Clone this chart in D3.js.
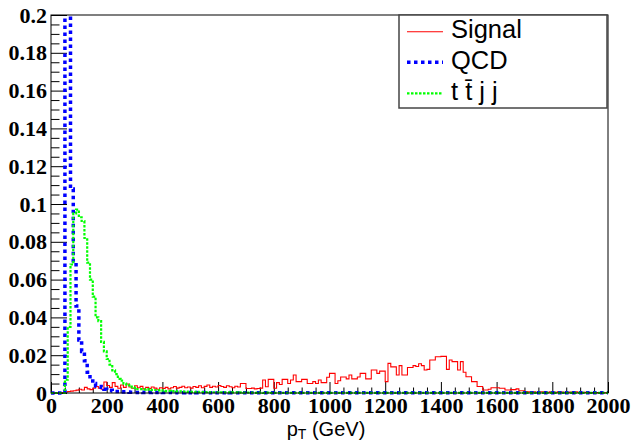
<!DOCTYPE html>
<html>
<head>
<meta charset="utf-8">
<script src="https://cdn.jsdelivr.net/npm/d3@7"></script>
<style>
  html, body { margin: 0; padding: 0; background: #fff; }
  svg { display: block; }
  .num text { font-family: "Liberation Serif", "Times New Roman", serif !important; font-weight: bold; }
</style>
</head>
<body>
<svg id="chart" width="631" height="441"></svg>
<script>
// ---------------- data (10 GeV bins, 0..2000 GeV) ----------------
const binWidth = 10;
const xDomain = [0, 2000];
const yDomain = [0, 0.2];

const signal = [
  0, 0, 0, 0, 0.0003, 0.0005, 0.0008, 0.0010, 0.0012, 0.0015,
  0.0020, 0.0016, 0.0030, 0.0022, 0.0018, 0.0025, 0.0034, 0.0026, 0.0020, 0.0058,
  0.0040, 0.0030, 0.0055, 0.0035, 0.0025, 0.0042, 0.0030, 0.0048, 0.0032, 0.0025,
  0.0038, 0.0028, 0.0035, 0.0022, 0.0030, 0.0024, 0.0032, 0.0026, 0.0020, 0.0028,
  0.0024, 0.0030, 0.0022, 0.0028, 0.0034, 0.0026, 0.0030, 0.0036, 0.0028, 0.0032,
  0.0026, 0.0034, 0.0030, 0.0038, 0.0028, 0.0035, 0.0042, 0.0030, 0.0036, 0.0032,
  0.0040, 0.0034, 0.0030, 0.0038, 0.0033, 0.0028, 0.0036, 0.0032, 0.0050, 0.0050,
  0.0024, 0.0024, 0.0026, 0.0022, 0.0024, 0.0026, 0.0069, 0.0033, 0.0072, 0.0072,
  0.0025, 0.0055, 0.0045, 0.0072, 0.0072, 0.0050, 0.0069, 0.0095, 0.0060, 0.0060,
  0.0072, 0.0072, 0.0050, 0.0050, 0.0060, 0.0050, 0.0069, 0.0055, 0.0055, 0.0083,
  0.0104, 0.0104, 0.0050, 0.0065, 0.0085, 0.0085, 0.0075, 0.0095, 0.0075, 0.0075,
  0.0085, 0.0104, 0.0104, 0.0075, 0.0075, 0.0122, 0.0122, 0.0104, 0.0116, 0.0116,
  0.0060, 0.0157, 0.0138, 0.0138, 0.0095, 0.0145, 0.0095, 0.0095, 0.0135, 0.0135,
  0.0145, 0.0140, 0.0155, 0.0145, 0.0122, 0.0125, 0.0175, 0.0175, 0.0192, 0.0192,
  0.0194, 0.0194, 0.0125, 0.0175, 0.0166, 0.0166, 0.0122, 0.0166, 0.0110, 0.0086,
  0.0086, 0.0060, 0.0060, 0.0034, 0.0034, 0.0016, 0.0016, 0.0020, 0.0028, 0.0028,
  0.0028, 0.0025, 0.0025, 0.0016, 0.0016, 0.0018, 0.0018, 0.0022, 0.0012, 0.0012,
  0.0008, 0.0006, 0.0005, 0.0006, 0.0004, 0.0005, 0.0007, 0.0005, 0.0004, 0.0006,
  0.0005, 0.0004, 0.0008, 0.0005, 0.0004, 0.0003, 0.0005, 0.0004, 0.0007, 0.0004,
  0.0003, 0.0004, 0.0003, 0.0002, 0.0003, 0.0002, 0.0002, 0.0001, 0.0001, 0.0001
];

const qcd = [
  0, 0, 0, 0, 0, 0.45, 0.30, 0.108, 0.070, 0.046,
  0.028, 0.022, 0.017, 0.011, 0.0075, 0.005, 0.0037, 0.0035, 0.003, 0.002,
  0.0015, 0.0015, 0.001, 0.0008, 0.0008, 0.0006, 0.0005, 0.0005, 0.0004, 0.0004,
  0.0003, 0.0003, 0.0004, 0.0002, 0.0003, 0.0002, 0.0003, 0.0002, 0.0002, 0.0003,
  0.0002, 0.0002, 0.0003, 0.0002, 0.0001, 0.0002, 0.0002, 0.0001, 0.0002, 0.0002,
  0.0001, 0.0002, 0.0001, 0.0001, 0.0002, 0.0001, 0.0001, 0.0001, 0.0002, 0.0001,
  0.0001, 0.0001, 0.0001, 0.0002, 0.0001, 0.0001, 0.0001, 0.0001, 0.0001, 0.0001,
  0.0001, 0.0001, 0.0001, 0.0001, 0.0001, 0.0001, 0.0001, 0.0001, 0.0001, 0.0001,
  0.0001, 0.0001, 0.0001, 0.0001, 0.0001, 0.0001, 0.0001, 0.0001, 0.0001, 0.0001,
  0.0001, 0.0001, 0.0001, 0.0001, 0.0001, 0.0001, 0.0001, 0.0001, 0.0001, 0.0001,
  0.0001, 0.0001, 0.0001, 0.0001, 0.0001, 0.0001, 0.0001, 0.0001, 0.0001, 0.0001,
  0.0001, 0.0001, 0.0001, 0.0001, 0.0001, 0.0001, 0.0001, 0.0001, 0.0001, 0.0001,
  0.0001, 0.0001, 0.0001, 0.0001, 0.0001, 0.0001, 0.0001, 0.0001, 0.0001, 0.0001,
  0.0001, 0.0001, 0.0001, 0.0001, 0.0001, 0.0001, 0.0001, 0.0001, 0.0001, 0.0001,
  0.0001, 0.0001, 0.0001, 0.0001, 0.0001, 0.0001, 0.0001, 0.0001, 0.0001, 0.0001,
  0.0001, 0.0001, 0.0001, 0.0001, 0.0001, 0.0001, 0.0001, 0.0001, 0.0001, 0.0001,
  0.0001, 0.0001, 0.0001, 0.0001, 0.0001, 0.0001, 0.0001, 0.0001, 0.0001, 0.0001,
  0.0001, 0.0001, 0.0001, 0.0001, 0.0001, 0.0001, 0.0001, 0.0001, 0.0001, 0.0001,
  0.0001, 0.0001, 0.0001, 0.0001, 0.0001, 0.0001, 0.0001, 0.0001, 0.0001, 0.0001,
  0.0001, 0.0001, 0.0001, 0.0001, 0.0001, 0.0001, 0.0001, 0.0001, 0.0001, 0.0001
];

const ttjj = [
  0, 0, 0, 0, 0, 0.007, 0.035, 0.068, 0.095, 0.097,
  0.093, 0.091, 0.082, 0.069, 0.060, 0.051, 0.040, 0.038, 0.027, 0.022,
  0.018, 0.015, 0.012, 0.010, 0.0075, 0.0065, 0.005, 0.0045, 0.004, 0.003,
  0.0027, 0.002, 0.002, 0.0018, 0.002, 0.0018, 0.0015, 0.0016, 0.0014, 0.0015,
  0.0012, 0.0010, 0.0011, 0.0009, 0.0010, 0.0008, 0.0009, 0.0007, 0.0008, 0.0006,
  0.0006, 0.0005, 0.0006, 0.0004, 0.0005, 0.0004, 0.0005, 0.0003, 0.0004, 0.0004,
  0.0003, 0.0004, 0.0003, 0.0003, 0.0002, 0.0003, 0.0003, 0.0002, 0.0003, 0.0002,
  0.0002, 0.0002, 0.0002, 0.0001, 0.0002, 0.0002, 0.0001, 0.0002, 0.0001, 0.0001,
  0.0001, 0.0001, 0.0001, 0.0001, 0.0001, 0.0001, 0.0001, 0.0001, 0.0001, 0.0001,
  0.0001, 0.0001, 0.0001, 0.0001, 0.0001, 0.0001, 0.0001, 0.0001, 0.0001, 0.0001,
  0.0001, 0.0001, 0.0001, 0.0001, 0.0001, 0.0001, 0.0001, 0.0001, 0.0001, 0.0001,
  0.0001, 0.0001, 0.0001, 0.0001, 0.0001, 0.0001, 0.0001, 0.0001, 0.0001, 0.0001,
  0.0001, 0.0001, 0.0001, 0.0001, 0.0001, 0.0001, 0.0001, 0.0001, 0.0001, 0.0001,
  0.0001, 0.0001, 0.0001, 0.0001, 0.0001, 0.0001, 0.0001, 0.0001, 0.0001, 0.0001,
  0.0001, 0.0001, 0.0001, 0.0001, 0.0001, 0.0001, 0.0001, 0.0001, 0.0001, 0.0001,
  0.0001, 0.0001, 0.0001, 0.0001, 0.0001, 0.0001, 0.0001, 0.0001, 0.0001, 0.0001,
  0.0001, 0.0001, 0.0001, 0.0001, 0.0001, 0.0001, 0.0001, 0.0001, 0.0001, 0.0001,
  0.0001, 0.0001, 0.0001, 0.0001, 0.0001, 0.0001, 0.0001, 0.0001, 0.0001, 0.0001,
  0.0001, 0.0001, 0.0001, 0.0001, 0.0001, 0.0001, 0.0001, 0.0001, 0.0001, 0.0001,
  0.0001, 0.0001, 0.0001, 0.0001, 0.0001, 0.0001, 0.0001, 0.0001, 0.0001, 0.0001
];

const seriesNames = ["Signal", "QCD", "t t\u0304 j j"];
const xTickValues = [0, 200, 400, 600, 800, 1000, 1200, 1400, 1600, 1800, 2000];
const xTickLabels = ["0", "200", "400", "600", "800", "1000", "1200", "1400", "1600", "1800", "2000"];
const yTickValues = [0, 0.02, 0.04, 0.06, 0.08, 0.1, 0.12, 0.14, 0.16, 0.18, 0.2];
const yTickLabels = ["0", "0.02", "0.04", "0.06", "0.08", "0.1", "0.12", "0.14", "0.16", "0.18", "0.2"];
const xMinorStep = 50;
const yMinorStep = 0.005;

// ---------------- layout ----------------
const W = 631, H = 441;
const margin = { left: 51, right: 23, top: 15, bottom: 48 };
const plotW = W - margin.left - margin.right;
const plotH = H - margin.top - margin.bottom;

const svg = d3.select("#chart");
const x = d3.scaleLinear().domain(xDomain).range([margin.left, margin.left + plotW]);
const y = d3.scaleLinear().domain(yDomain).range([margin.top + plotH, margin.top]);

const sansFont = "'Liberation Sans', Arial, Helvetica, sans-serif";

svg.append("defs").append("clipPath").attr("id", "plotclip")
  .append("rect")
  .attr("x", margin.left).attr("y", margin.top)
  .attr("width", plotW).attr("height", plotH + 2.5);

// minor ticks
const xMinor = d3.range(xDomain[0], xDomain[1] + 1e-9, xMinorStep).filter(v => xTickValues.indexOf(v) < 0);
const yMinor = d3.range(yDomain[0], yDomain[1] + 1e-9, yMinorStep)
  .map(v => +v.toFixed(4))
  .filter(v => !yTickValues.some(t => Math.abs(t - v) < 1e-9));

svg.append("g")
  .attr("transform", `translate(0,${margin.top + plotH})`)
  .call(d3.axisBottom(x).tickValues(xMinor).tickSize(-5.5).tickFormat(""))
  .call(g => g.select(".domain").remove())
  .call(g => g.selectAll("line").attr("stroke", "#000").attr("stroke-width", 1));

svg.append("g")
  .attr("transform", `translate(${margin.left},0)`)
  .call(d3.axisLeft(y).tickValues(yMinor).tickSize(-8.5).tickFormat(""))
  .call(g => g.select(".domain").remove())
  .call(g => g.selectAll("line").attr("stroke", "#000").attr("stroke-width", 1));

// major ticks + labels
svg.append("g")
  .attr("class", "num")
  .attr("transform", `translate(0,${margin.top + plotH})`)
  .call(d3.axisBottom(x).tickValues(xTickValues).tickSize(-11).tickPadding(4)
    .tickFormat((d, i) => xTickLabels[i]))
  .call(g => g.select(".domain").remove())
  .call(g => g.selectAll("line").attr("stroke", "#000").attr("stroke-width", 1))
  .call(g => g.selectAll("text")
    .attr("font-family", "Liberation Serif").attr("font-weight", "bold")
    .attr("font-size", 22).attr("fill", "#000"));

svg.append("g")
  .attr("class", "num")
  .attr("transform", `translate(${margin.left},0)`)
  .call(d3.axisLeft(y).tickValues(yTickValues).tickSize(-16).tickPadding(4)
    .tickFormat((d, i) => yTickLabels[i]))
  .call(g => g.select(".domain").remove())
  .call(g => g.selectAll("line").attr("stroke", "#000").attr("stroke-width", 1))
  .call(g => g.selectAll("text")
    .attr("font-family", "Liberation Serif").attr("font-weight", "bold")
    .attr("font-size", 22).attr("fill", "#000"));

// ---------------- histograms ----------------
function stepPoints(values) {
  const pts = [];
  values.forEach((v, i) => {
    const lo = xDomain[0] + i * binWidth;
    pts.push([lo, v]);
    pts.push([lo + binWidth, v]);
  });
  return pts;
}
const line = d3.line().x(d => x(d[0])).y(d => y(d[1]));

const styles = [
  { data: signal, color: "#ff0000", width: 1.1, dash: null },
  { data: qcd, color: "#0000ff", width: 3.5, dash: "3.5,3.5" },
  { data: ttjj, color: "#00ff00", width: 2.2, dash: "2.5,1.5" }
];

const plotG = svg.append("g").attr("clip-path", "url(#plotclip)");
styles.forEach(s => {
  plotG.append("path")
    .attr("d", line(stepPoints(s.data)))
    .attr("fill", "none")
    .attr("stroke", s.color)
    .attr("stroke-width", s.width)
    .attr("stroke-dasharray", s.dash)
    .attr("stroke-linejoin", "miter");
});

// frame
svg.append("rect")
  .attr("x", margin.left).attr("y", margin.top)
  .attr("width", plotW).attr("height", plotH)
  .attr("fill", "none").attr("stroke", "#000").attr("stroke-width", 1);

// ---------------- legend ----------------
const lg = svg.append("g");
lg.append("rect")
  .attr("x", 399).attr("y", 15).attr("width", 208).attr("height", 93)
  .attr("fill", "#fff").attr("stroke", "#444").attr("stroke-width", 1.5);
const rowY = [31.7, 62.3, 93.3];
styles.forEach((s, i) => {
  lg.append("line")
    .attr("x1", 407).attr("x2", 443)
    .attr("y1", rowY[i]).attr("y2", rowY[i])
    .attr("stroke", s.color)
    .attr("stroke-width", s.width)
    .attr("stroke-dasharray", s.dash);
  lg.append("text")
    .attr("x", 451).attr("y", rowY[i] + 6.5)
    .attr("font-family", sansFont).attr("font-size", 25.5)
    .attr("fill", "#000")
    .attr("xml:space", "preserve")
    .text(seriesNames[i]);
});

// ---------------- axis title ----------------
const t = svg.append("text")
  .attr("x", 326).attr("y", 435.5)
  .attr("text-anchor", "middle")
  .attr("font-family", sansFont).attr("font-size", 20).attr("fill", "#000");
t.append("tspan").text("p");
t.append("tspan").attr("font-size", 14).attr("dy", 3).text("T");
t.append("tspan").attr("dy", -3).text(" (GeV)");
</script>
</body>
</html>
